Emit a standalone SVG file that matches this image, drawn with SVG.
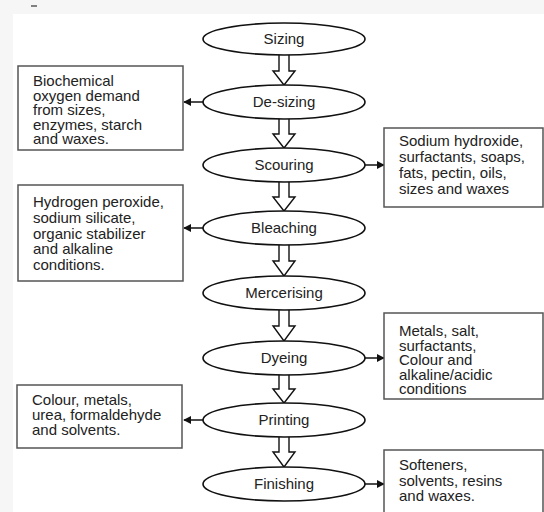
<svg xmlns="http://www.w3.org/2000/svg" width="544" height="512" viewBox="0 0 544 512">
<style>
.bg{fill:#f6f6f6}
.node ellipse{fill:#fff;stroke:#111;stroke-width:1.6}
.node text,.box text{font-family:"Liberation Sans",Arial,sans-serif;font-size:15px;fill:#222}
.node text{text-anchor:middle}
.box rect{fill:#fff;stroke:#555;stroke-width:1.5}
.flow{fill:#fff;stroke:#111;stroke-width:1.4;stroke-linejoin:miter}
.side{stroke:#111;stroke-width:1.5;fill:none;marker-end:url(#ah)}
</style>
<defs>
<marker id="ah" viewBox="0 0 10 10" refX="9" refY="5" markerWidth="8" markerHeight="8" markerUnits="userSpaceOnUse" orient="auto">
<path d="M0,0 L10,5 L0,10 Z" fill="#111"/>
</marker>
</defs>
<rect class="bg" x="0" y="0" width="544" height="512"/>
<rect x="13" y="14" width="531" height="498" fill="#fff"/>
<line x1="31" y1="6" x2="37" y2="6" stroke="#333" stroke-width="1.2"/>

<g id="connectors">
<path class="flow" d="M279,54 V71 H273 L284,85 L295,71 H289 V54 Z"/>
<path class="flow" d="M279,117 V134 H273 L284,148 L295,134 H289 V117 Z"/>
<path class="flow" d="M279,180 V197 H273 L284,211 L295,197 H289 V180 Z"/>
<path class="flow" d="M279,243 V261 H273 L284,276 L295,261 H289 V243 Z"/>
<path class="flow" d="M279,308 V326 H273 L284,341 L295,326 H289 V308 Z"/>
<path class="flow" d="M279,373 V389 H273 L284,403 L295,389 H289 V373 Z"/>
<path class="flow" d="M279,435 V452 H273 L284,467 L295,452 H289 V435 Z"/>
<line class="side" x1="203" y1="102" x2="184" y2="102"/>
<line class="side" x1="365" y1="165" x2="384" y2="165"/>
<line class="side" x1="203" y1="228" x2="184" y2="228"/>
<line class="side" x1="365" y1="358" x2="384" y2="358"/>
<line class="side" x1="203" y1="420" x2="184" y2="420"/>
<line class="side" x1="365" y1="484" x2="384" y2="484"/>
</g>

<g id="sizing" class="node"><ellipse cx="284" cy="39" rx="81" ry="16"/><text x="284" y="44">Sizing</text></g>
<g id="desizing" class="node"><ellipse cx="284" cy="102" rx="81" ry="17"/><text x="284" y="107">De-sizing</text></g>
<g id="scouring" class="node"><ellipse cx="284" cy="165" rx="81" ry="17"/><text x="284" y="170">Scouring</text></g>
<g id="bleaching" class="node"><ellipse cx="284" cy="228" rx="81" ry="17"/><text x="284" y="233">Bleaching</text></g>
<g id="mercerising" class="node"><ellipse cx="284" cy="293" rx="81" ry="17"/><text x="284" y="298">Mercerising</text></g>
<g id="dyeing" class="node"><ellipse cx="284" cy="358" rx="81" ry="17"/><text x="284" y="363">Dyeing</text></g>
<g id="printing" class="node"><ellipse cx="284" cy="420" rx="81" ry="17"/><text x="284" y="425">Printing</text></g>
<g id="finishing" class="node"><ellipse cx="284" cy="484" rx="81" ry="17"/><text x="284" y="489">Finishing</text></g>

<g id="box-desizing" class="box"><rect x="18" y="66" width="165" height="84"/>
<text x="33" y="86">Biochemical</text><text x="33" y="100.5">oxygen demand</text><text x="33" y="115">from sizes,</text><text x="33" y="129.5">enzymes, starch</text><text x="33" y="144">and waxes.</text></g>
<g id="box-scouring" class="box"><rect x="384" y="128" width="159" height="79"/>
<text x="399" y="146">Sodium hydroxide,</text><text x="399" y="162">surfactants, soaps,</text><text x="399" y="178">fats, pectin, oils,</text><text x="399" y="194">sizes and waxes</text></g>
<g id="box-bleaching" class="box"><rect x="18" y="185" width="165" height="96"/>
<text x="33" y="207">Hydrogen peroxide,</text><text x="33" y="223">sodium silicate,</text><text x="33" y="238.5">organic stabilizer</text><text x="33" y="254">and alkaline</text><text x="33" y="270">conditions.</text></g>
<g id="box-dyeing" class="box"><rect x="384" y="313" width="159" height="86"/>
<text x="399" y="336">Metals, salt,</text><text x="399" y="350.5">surfactants,</text><text x="399" y="365">Colour and</text><text x="399" y="379.5">alkaline/acidic</text><text x="399" y="394">conditions</text></g>
<g id="box-printing" class="box"><rect x="17" y="385" width="165" height="63"/>
<text x="32" y="405">Colour, metals,</text><text x="32" y="420">urea, formaldehyde</text><text x="32" y="435">and solvents.</text></g>
<g id="box-finishing" class="box"><rect x="384" y="450" width="159" height="66"/>
<text x="399" y="470">Softeners,</text><text x="399" y="485.5">solvents, resins</text><text x="399" y="501">and waxes.</text></g>
</svg>
